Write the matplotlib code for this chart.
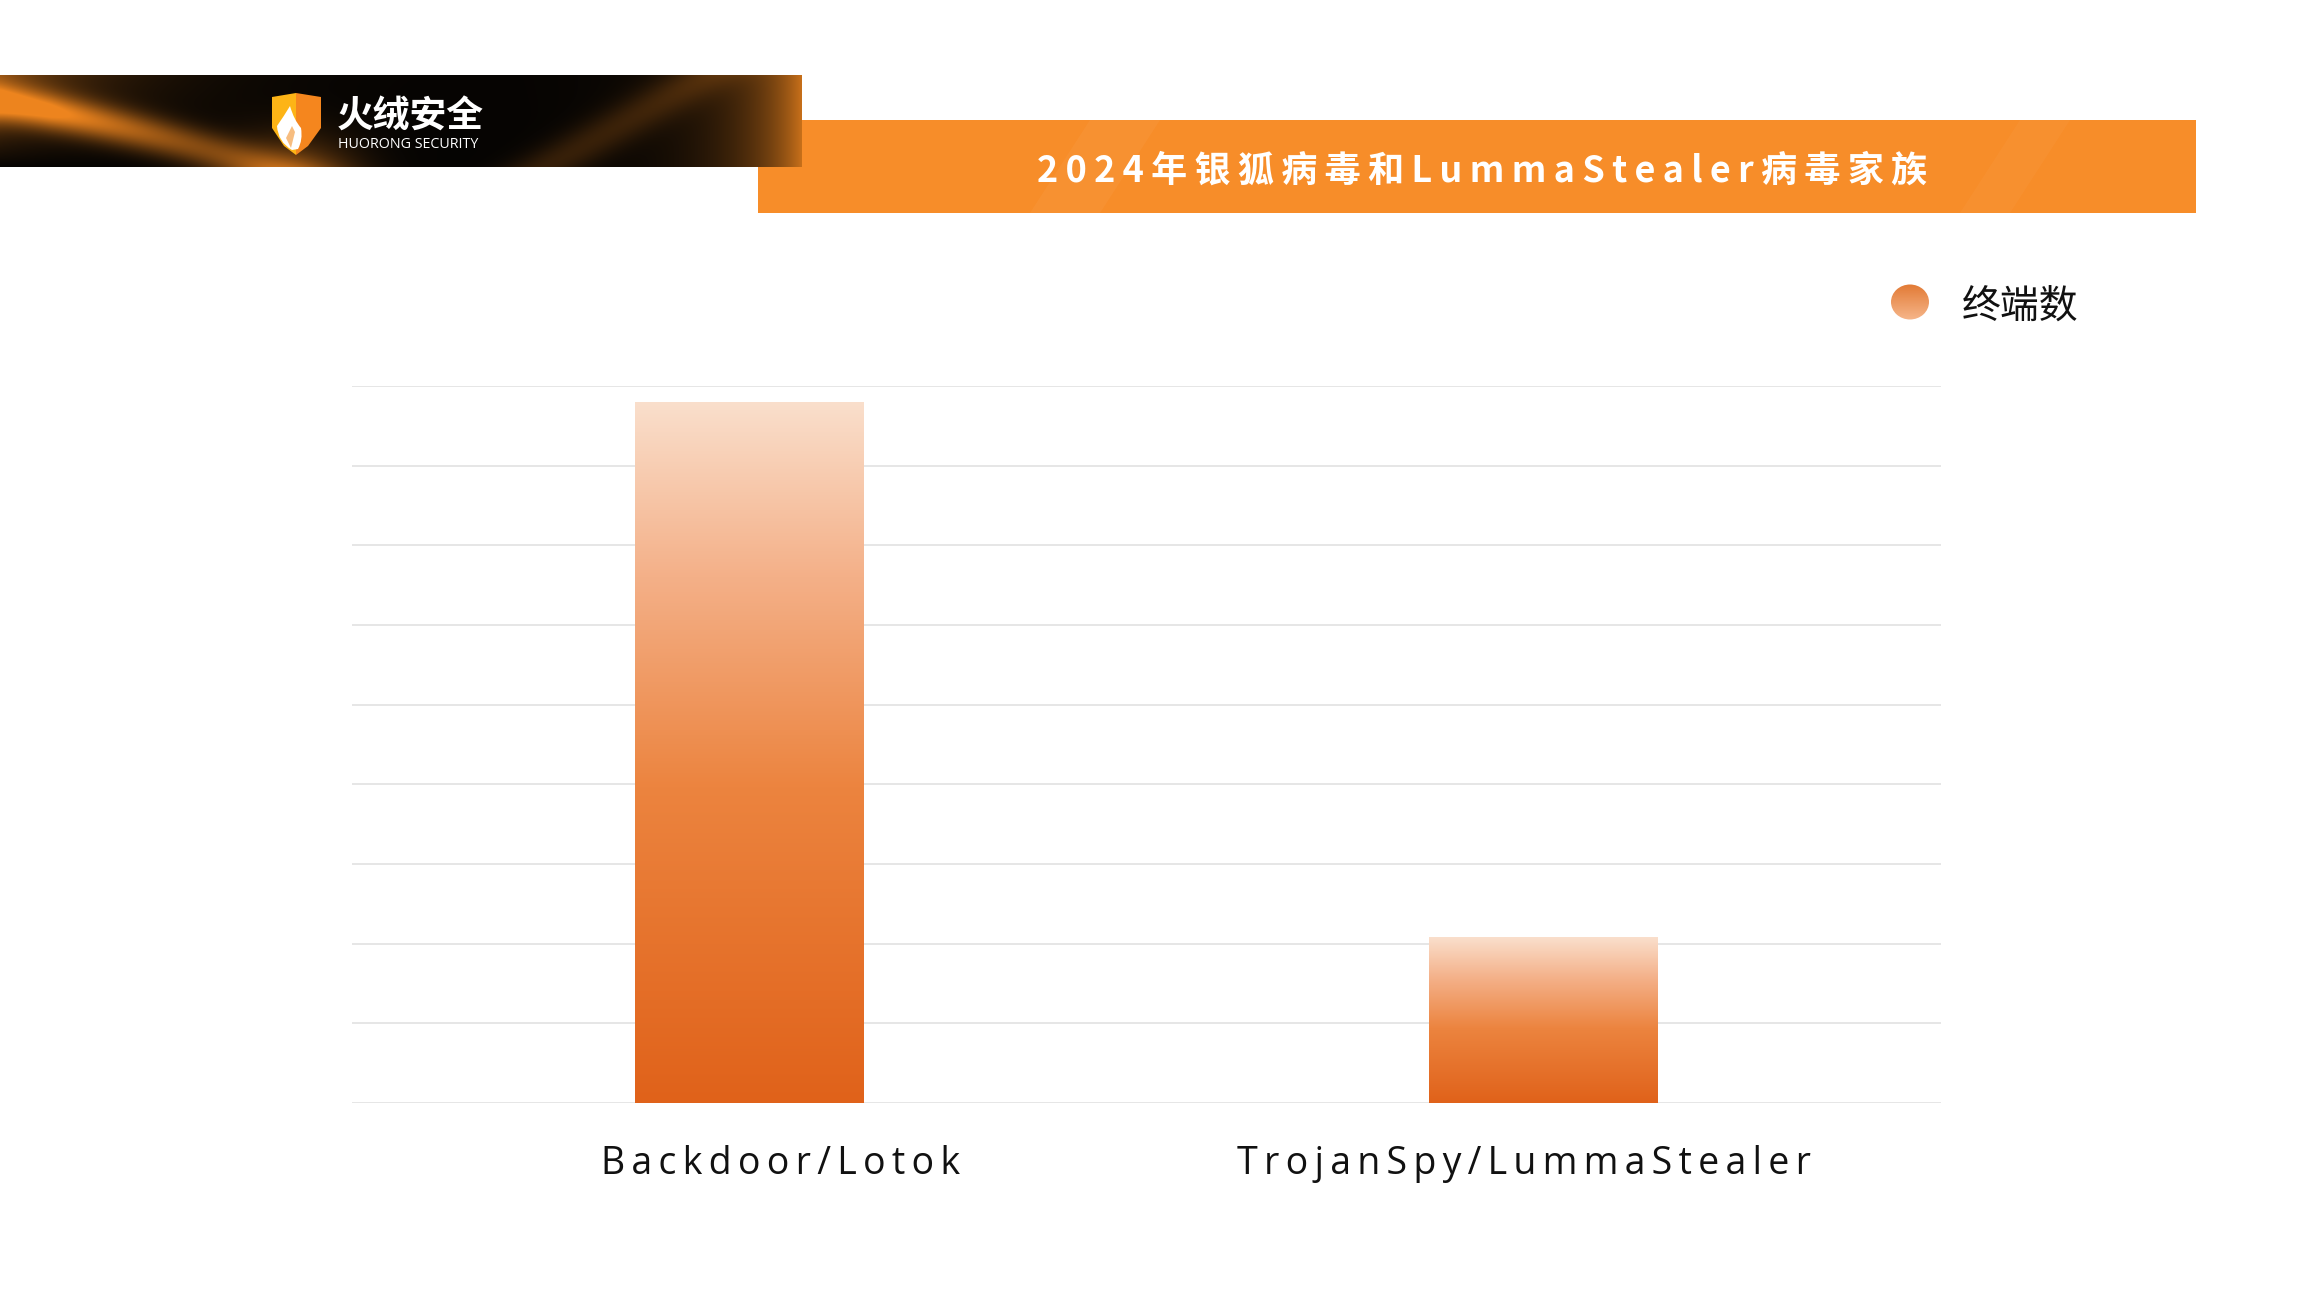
import numpy as np
import matplotlib
matplotlib.use("Agg")
from matplotlib import pyplot as plt
from matplotlib import transforms
from matplotlib.colors import LinearSegmentedColormap
from matplotlib.patches import Rectangle, Ellipse, PathPatch
from matplotlib.path import Path

plt.rcParams['font.family'] = ['Noto Sans CJK SC', 'DejaVu Sans']

# data
categories = ['Backdoor/Lotok', 'TrojanSpy/LummaStealer']
values = [4400, 1040]
series_name = '终端数'
title = '2024年银狐病毒和LummaStealer病毒家族'
y_max = 4500
y_step = 500

W, H = 2300, 1293
fig = plt.figure(figsize=(23, 12.93), dpi=100)
fig.patch.set_facecolor('white')


def spaced(s, sep='\u200a'):
    return sep.join(s)


# ---------- chart ----------
ax = fig.add_axes([352 / W, 1 - 1103 / H, (1941 - 352) / W, (1103 - 386) / H])
bar_cmap = LinearSegmentedColormap.from_list(
    'bar', [(0, '#E0621A'), (0.45, '#EC843F'), (0.75, '#F4B088'), (1, '#FADFCC')])
x = np.arange(len(categories))
bars = ax.bar(x, values, width=0.288, color='none', edgecolor='none', zorder=3)
grad = np.linspace(0, 1, 256).reshape(-1, 1)
for rect in bars:
    x0, w, h = rect.get_x(), rect.get_width(), rect.get_height()
    im = ax.imshow(grad, extent=[x0, x0 + w, 0, h], origin='lower', aspect='auto',
                   cmap=bar_cmap, zorder=3, interpolation='bilinear')
    im.set_clip_path(rect)

ax.set_xlim(-0.5, len(categories) - 0.5)
ax.set_ylim(0, y_max)
ax.set_aspect('auto')
ax.set_yticks(np.arange(0, y_max + 1, y_step))
ax.yaxis.grid(True, color='#E4E4E4', linewidth=1.3)
ax.set_axisbelow(True)
ax.tick_params(axis='y', length=0, labelleft=False)
ax.tick_params(axis='x', length=0, pad=30)
ax.set_xticks(x)
ax.set_xticklabels([spaced(c, '\u2006') for c in categories], fontsize=27,
                   family=['Open Sans', 'DejaVu Sans'], color='#111111')
# labels in the original sit a little off the bar centres
for lbl, dx in zip(ax.get_xticklabels(), [31, -20]):
    lbl.set_transform(lbl.get_transform() +
                      transforms.ScaledTranslation(dx / 100, 0, fig.dpi_scale_trans))
for s in ax.spines.values():
    s.set_visible(False)

# ---------- header / decorations ----------
deco = fig.add_axes([0, 0, 1, 1], zorder=5)
deco.axis('off')

# orange title banner
deco.add_patch(Rectangle((758, 120), 2196 - 758, 213 - 120, facecolor='#F78D29',
                         edgecolor='none', zorder=1))
for x0, x1, a in [(1030, 1100, 0.04), (1960, 2010, 0.03)]:
    deco.add_patch(PathPatch(Path([(x0, 213), (x0 + 60, 120), (x1 + 60, 120), (x1, 213)]),
                             facecolor='white', alpha=a, edgecolor='none', zorder=1.5))
deco.text(1482, 171, spaced(title, '\u200a\u200a'), color='white', fontsize=26,
          fontweight='black', ha='center', va='center', zorder=2)

# dark banner with orange swooshes
bh, bw = 92, 802
yy, xx = np.mgrid[0:bh, 0:bw]
u = xx / bw
v = yy / bh
c1 = 0.3 + 0.75 * np.clip(u / 0.36, 0, 1.4) ** 1.2
s1 = np.exp(-((v - c1) / 0.2) ** 2) * np.clip(1.15 - u / 0.42, 0, 1) * 0.9
tl = np.exp(-u / 0.12) * (1 - v) * 0.55
d2 = u - (0.68 + 0.2 * (1 - v))
s2 = np.exp(-(d2 / 0.05) ** 2) * 0.2
re = np.exp(-(1 - u) / 0.07) * 0.85
bot = np.exp(-((u - 0.36) / 0.08) ** 2) * v ** 3 * 0.55
inten = np.clip(s1 + tl + s2 + re + bot, 0, 1)
base = np.array([0.02, 0.015, 0.01])
orange = np.array([0.93, 0.52, 0.12])
img = base + inten[..., None] * (orange - base)
deco.imshow(img, extent=[0, bw, 75 + bh, 75], aspect='auto', zorder=3, interpolation='bilinear')

# shield logo
left = Path([(272, 97), (296, 93), (296, 155), (284, 146), (272, 128), (272, 97)])
right = Path([(296, 93), (321, 97), (321, 128), (308, 146), (296, 155), (296, 93)])
deco.add_patch(PathPatch(left, facecolor='#FDB416', edgecolor='none', zorder=4))
deco.add_patch(PathPatch(right, facecolor='#F5861E', edgecolor='none', zorder=4))
flame = Path([(292, 150), (278, 142), (277, 126), (284, 116), (290, 106),
              (294, 120), (301, 128), (303, 140), (298, 149), (292, 150)],
             [Path.MOVETO, Path.CURVE3, Path.CURVE3, Path.CURVE3, Path.CURVE3,
              Path.CURVE3, Path.CURVE3, Path.CURVE3, Path.CURVE3, Path.CLOSEPOLY])
deco.add_patch(PathPatch(flame, facecolor='white', edgecolor='none', zorder=5))
inner = Path([(291, 148), (286, 138), (292, 126), (295, 132), (291, 148)])
deco.add_patch(PathPatch(inner, facecolor='#F5A24A', edgecolor='none', zorder=6, alpha=0.7))

deco.text(337, 116, '火绒安全', color='white', fontsize=26.5, fontweight='bold',
          ha='left', va='center', zorder=6)
deco.text(338, 145, 'HUORONG SECURITY', color='white', fontsize=10.3,
          ha='left', va='center', zorder=6, family=['Open Sans', 'DejaVu Sans'])

# legend
leg_cmap = LinearSegmentedColormap.from_list('leg', ['#E27A35', '#F6B68A'])
circ = Ellipse((1910, 302), 38, 35, facecolor='none', edgecolor='none', zorder=6)
deco.add_patch(circ)
li = deco.imshow(np.linspace(0, 1, 64).reshape(-1, 1), extent=[1891, 1929, 320, 284],
                 aspect='auto', cmap=leg_cmap, zorder=6, origin='upper')
li.set_clip_path(circ)
deco.text(1962, 308, series_name, fontsize=28, color='#111111', ha='left', va='center', zorder=6)
deco.set_xlim(0, W)
deco.set_ylim(H, 0)

fig.savefig('out.png', dpi=100, facecolor='white')
